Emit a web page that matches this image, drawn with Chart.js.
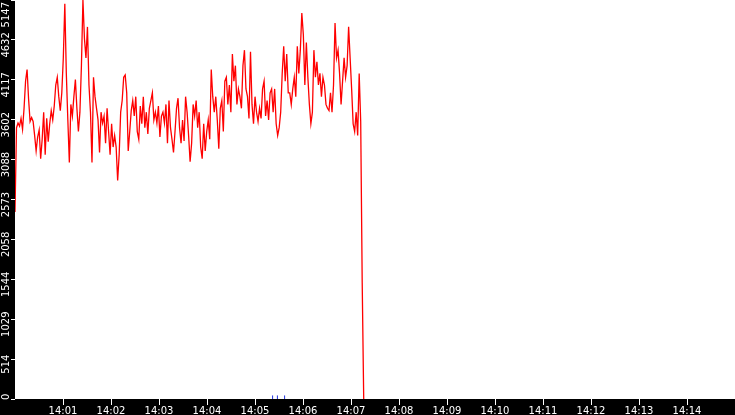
<!DOCTYPE html>
<html>
<head>
<meta charset="utf-8">
<script src="https://cdn.jsdelivr.net/npm/chart.js@4/dist/chart.umd.min.js"></script>
<style>
html,body{margin:0;padding:0;background:#000;overflow:hidden;}
#wrap{width:735px;height:415px;position:relative;}
canvas{display:block;}
</style>
</head>
<body>
<div id="wrap"><canvas id="c" width="735" height="415"></canvas></div>
<script>
// ---- data ----
const sampleStartSec = 0;      // 14:00:00
const sampleStepSec = 1.887;   // sampling interval of the series
const trafficValues = [
2412,3500,3560,3520,3620,3480,3750,4100,4250,3870,3580,3630,3580,3400,3200,3380,
3470,3100,3350,3700,3150,3620,3320,3550,3720,3600,3780,4050,4150,3900,3720,3950,
4400,5100,4200,3600,3050,3800,3650,3900,4120,3750,3450,3700,4300,5147,4650,4400,
4800,4050,3700,3050,4150,3900,3750,3600,3180,3700,3560,3650,3300,3750,3450,3150,
3550,3250,3400,3250,2820,3150,3700,3850,4150,4180,3950,3200,3450,3720,3850,3650,
3900,3450,3350,3780,3550,3900,3500,3700,3420,3750,3850,3950,3600,3700,3560,3780,
3380,3650,3700,3560,3800,3300,3850,3500,3350,3180,3450,3750,3880,3500,3300,3600,
3330,3900,3700,3400,3060,3300,3800,3650,3850,3500,3700,3250,3100,3550,3200,3450,
3600,3350,4250,3900,3700,3900,3600,3230,3750,3850,3450,4100,4150,3800,4050,3700,
4450,4100,4300,3800,4000,3900,3750,4300,4500,4000,
3900,3620,4480,3800,3550,3900,3700,3580,3750,3620,4000,4100,3650,3850,3600,3950,
4000,3700,4000,3550,3400,3500,3700,4200,4550,4100,4450,3950,3950,3800,4000,4150,
3900,4550,4200,4500,4980,4700,4050,4600,4150,3800,3550,3700,4500,4150,4350,4050,
4200,3900,4150,4050,3800,3750,3720,3950,3700,4050,4850,4400,4500,4200,3800,4100,
4400,4150,4300,4800,4400,4000,3550,3450,3700,3400,4200,3580,
1500,0
];
const blueTimesSec = [322, 328, 337];
const blueValues = [20, 20, 20];
const yTickValues = [0, 514.7, 1029.4, 1544.1, 2058.8, 2573.5, 3088.2, 3602.9, 4117.6, 4632.3, 5147];
const yTickLabels = ['0','514','1029','1544','2058','2573','3088','3602','4117','4632','5147'];
const xTickMinutes = [1,2,3,4,5,6,7,8,9,10,11,12,13,14];
const xTickLabels = ['14:01','14:02','14:03','14:04','14:05','14:06','14:07','14:08','14:09','14:10','14:11','14:12','14:13','14:14'];
const xMinSec = 0, xMaxSec = 900;
const yMin = 0, yMax = 5147;

// ---- chart ----
Chart.defaults.font.family = "'DejaVu Sans', sans-serif";
Chart.defaults.font.size = 10;

const mainData = trafficValues.map((v, i) => ({x: sampleStartSec + i * sampleStepSec, y: v}));
const blueData = blueTimesSec.map((t, i) => ({x: t, y: blueValues[i]}));

const bgPlugin = {
  id: 'bg',
  beforeDraw(chart) {
    const {ctx, chartArea: a} = chart;
    ctx.save();
    ctx.fillStyle = '#000';
    ctx.fillRect(0, 0, chart.width, chart.height);
    ctx.fillStyle = '#fff';
    ctx.fillRect(a.left, a.top, a.right - a.left, a.bottom - a.top);
    ctx.restore();
  }
};

const yLabelPlugin = {
  id: 'ylabels',
  afterDraw(chart) {
    const {ctx} = chart;
    const sc = chart.scales.y;
    ctx.save();
    ctx.fillStyle = '#fff';
    ctx.font = "10px 'DejaVu Sans', sans-serif";
    ctx.textAlign = 'center';
    ctx.textBaseline = 'middle';
    sc.ticks.forEach((t, i) => {
      const label = yTickLabels[i];
      const w = ctx.measureText(label).width;
      let cy = sc.getPixelForValue(t.value) + 5;
      cy = Math.max(2 + w / 2, Math.min(400 - w / 2, cy));
      ctx.save();
      ctx.translate(6, cy);
      ctx.rotate(-Math.PI / 2);
      ctx.fillText(label, 0, 0);
      ctx.restore();
    });
    ctx.restore();
  }
};

new Chart(document.getElementById('c'), {
  type: 'line',
  data: {
    datasets: [
      {
        data: mainData,
        borderColor: '#ff0000',
        borderWidth: 1.3,
        pointRadius: 0,
        pointHoverRadius: 0,
        pointHitRadius: 0,
        tension: 0,
        fill: false
      },
      {
        type: 'scatter',
        data: blueData,
        showLine: false,
        pointStyle: 'line',
        rotation: 90,
        radius: 2,
        hoverRadius: 0,
        hitRadius: 0,
        borderColor: '#2233dd',
        backgroundColor: '#2233dd',
        borderWidth: 1
      }
    ]
  },
  options: {
    responsive: false,
    animation: false,
    devicePixelRatio: 1,
    events: [],
    layout: {padding: 0, autoPadding: false},
    plugins: {legend: {display: false}, tooltip: {enabled: false}},
    scales: {
      x: {
        type: 'linear',
        min: xMinSec,
        max: xMaxSec,
        afterBuildTicks(scale) { scale.ticks = xTickMinutes.map(m => ({value: m * 60})); },
        afterFit(scale) { scale.height = 16; },
        grid: {drawOnChartArea: false, drawTicks: true, tickLength: 6, color: '#fff'},
        border: {display: false},
        ticks: {
          color: '#fff',
          font: {size: 10},
          padding: 0,
          maxRotation: 0,
          autoSkip: false,
          callback: (v, i) => xTickLabels[i]
        }
      },
      y: {
        type: 'linear',
        min: yMin,
        max: yMax,
        afterBuildTicks(scale) { scale.ticks = yTickValues.map(v => ({value: v})); },
        afterFit(scale) { scale.width = 15; },
        grid: {drawOnChartArea: false, drawTicks: true, tickLength: 4, color: '#fff'},
        border: {display: false},
        ticks: {display: false}
      }
    }
  },
  plugins: [bgPlugin, yLabelPlugin]
});
</script>
</body>
</html>
